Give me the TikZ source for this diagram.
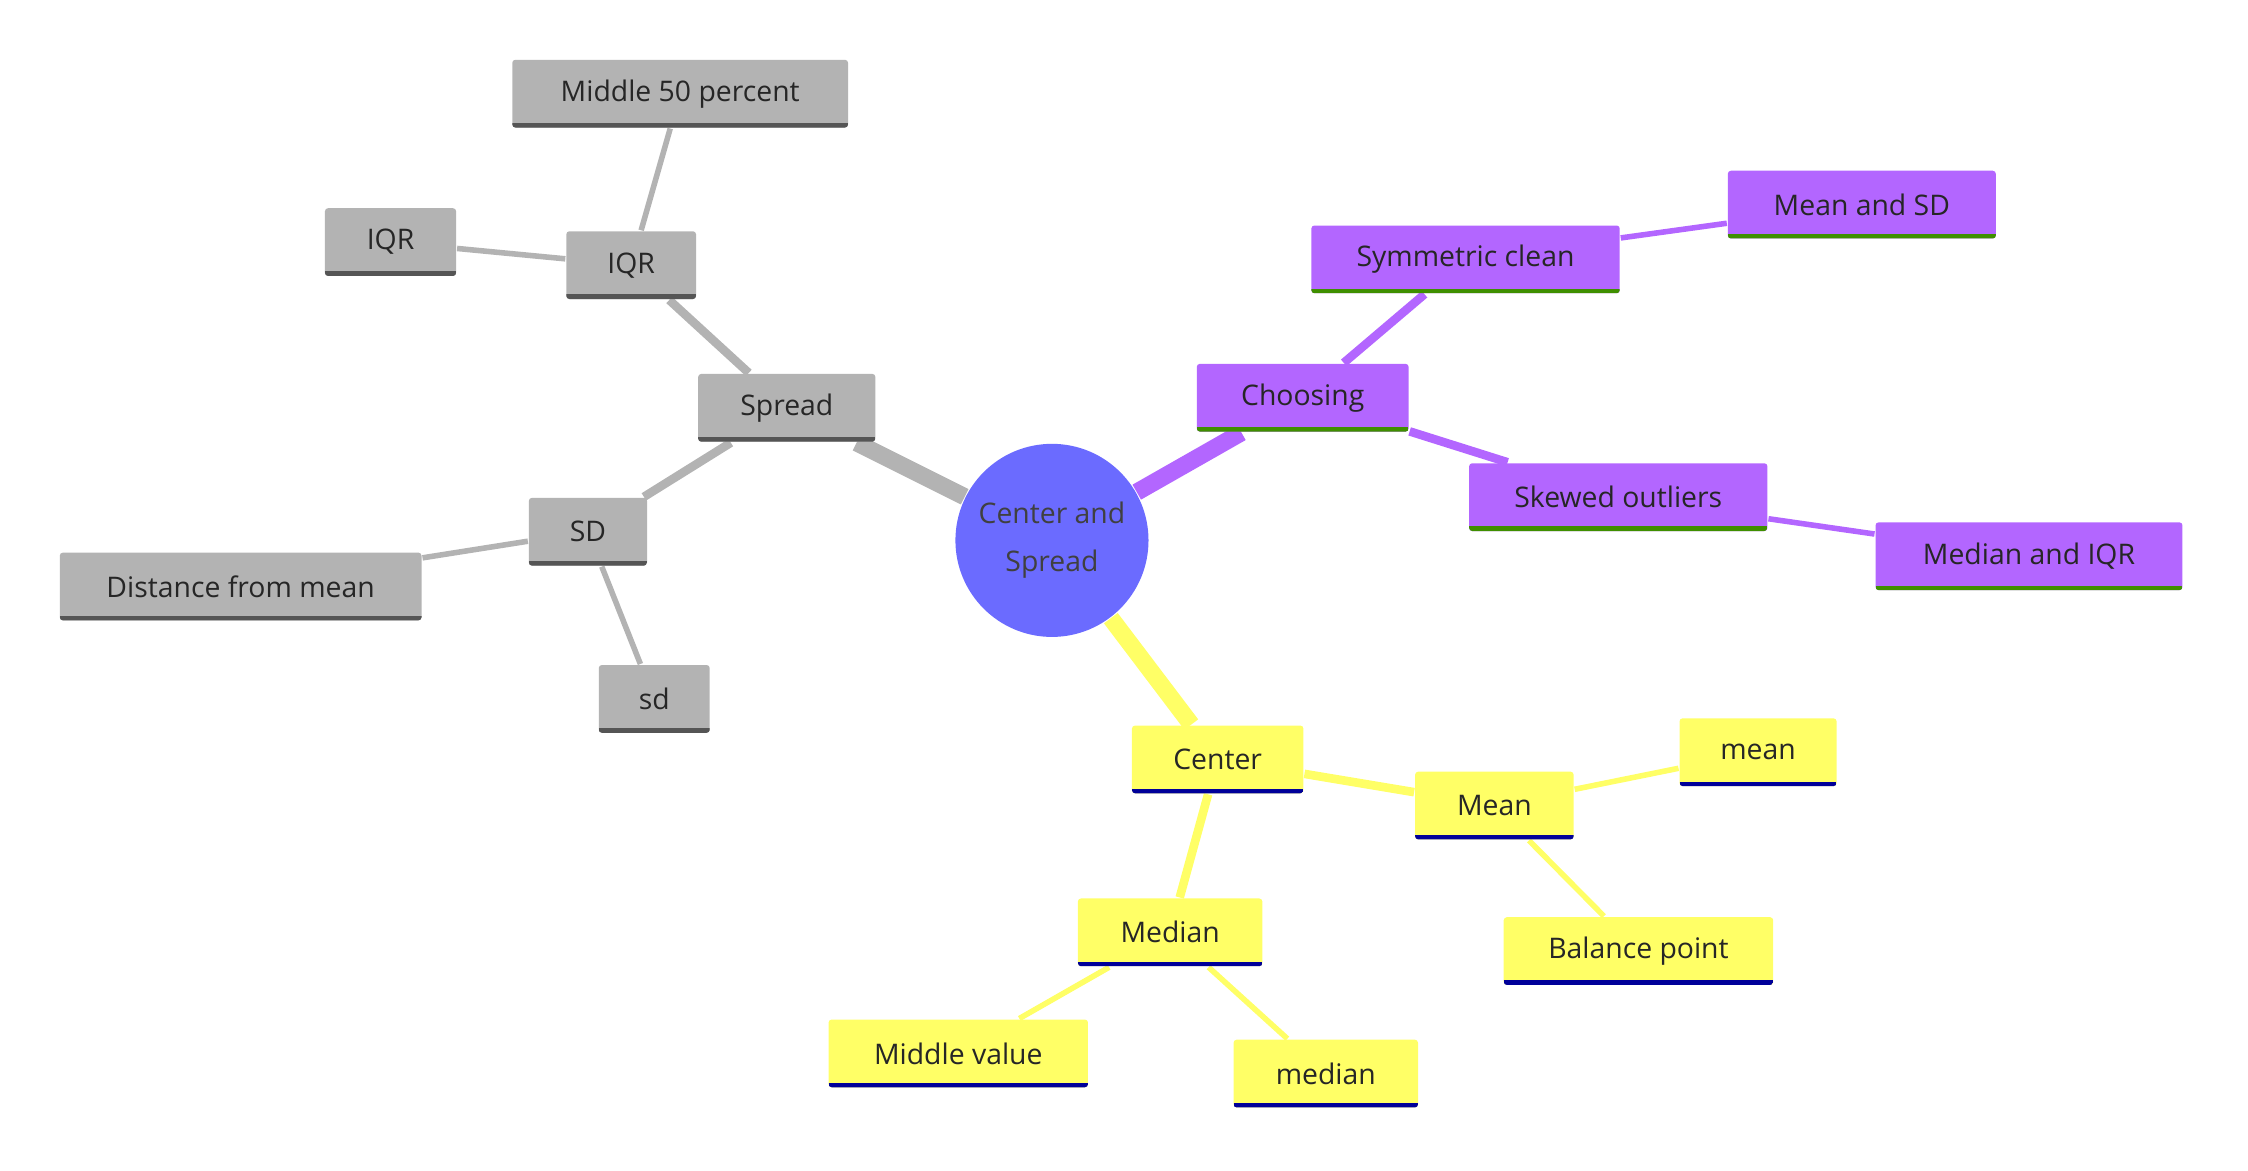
\documentclass[tikz,border=0pt]{standalone}
\usepackage{fontspec}
\setmainfont{Open Sans}
\usetikzlibrary{backgrounds}
\definecolor{rootc}{HTML}{6B6BFF}
\definecolor{grayc}{HTML}{B3B3B3}
\definecolor{grayl}{HTML}{555555}
\definecolor{purpc}{HTML}{B366FF}
\definecolor{purpl}{HTML}{3F8F00}
\definecolor{yelc}{HTML}{FFFF66}
\definecolor{yell}{HTML}{000099}
\begin{document}
\begin{tikzpicture}[font=\fontsize{5.6}{7.5}\selectfont,
  box/.style={rectangle, rounded corners=0.6pt, fill=#1c, text=black!85,
    inner sep=0pt, minimum height=0.47cm,
    path picture={\draw[#1l, line width=1.8pt] (path picture bounding box.south west) -- (path picture bounding box.south east);}},
  root/.style={circle, fill=rootc, minimum size=1.34cm, inner sep=0pt, align=center, text=black!75},
  big/.style={line width=3.4pt},
  mid/.style={line width=1.7pt},
  small/.style={line width=1.1pt}]
\useasboundingbox (0,0) rectangle (15.6,-8.12);

\node[root] (r) at (7.30,-3.75) {Center and\\[2pt]Spread};

\node[box=gray, minimum width=1.23cm] (spread) at (5.46,-2.83) {Spread};
\node[box=gray, minimum width=0.90cm] (iqr) at (4.38,-1.84) {IQR};
\node[box=gray, minimum width=0.91cm] (iqr2) at (2.71,-1.68) {IQR};
\node[box=gray, minimum width=2.33cm] (mid50) at (4.72,-0.65) {Middle 50 percent};
\node[box=gray, minimum width=0.82cm] (sd) at (4.08,-3.69) {SD};
\node[box=gray, minimum width=2.51cm] (dist) at (1.67,-4.07) {Distance from mean};
\node[box=gray, minimum width=0.77cm] (sd2) at (4.54,-4.85) {sd};

\node[box=purp, minimum width=1.47cm] (choose) at (9.04,-2.76) {Choosing};
\node[box=purp, minimum width=2.14cm] (sym) at (10.17,-1.80) {Symmetric clean};
\node[box=purp, minimum width=1.86cm] (meansd) at (12.92,-1.42) {Mean and SD};
\node[box=purp, minimum width=2.07cm] (skew) at (11.23,-3.45) {Skewed outliers};
\node[box=purp, minimum width=2.13cm] (mediqr) at (14.08,-3.86) {Median and IQR};

\node[box=yel, minimum width=1.19cm] (center) at (8.45,-5.27) {Center};
\node[box=yel, minimum width=1.10cm] (mean) at (10.37,-5.59) {Mean};
\node[box=yel, minimum width=1.09cm] (mean2) at (12.20,-5.22) {mean};
\node[box=yel, minimum width=1.87cm] (bal) at (11.37,-6.60) {Balance point};
\node[box=yel, minimum width=1.28cm] (median) at (8.12,-6.47) {Median};
\node[box=yel, minimum width=1.80cm] (midv) at (6.65,-7.31) {Middle value};
\node[box=yel, minimum width=1.28cm] (median2) at (9.20,-7.45) {median};

\begin{scope}[on background layer]
  \draw[big, grayc] (r) -- (spread);
  \draw[mid, grayc] (spread) -- (iqr);
  \draw[mid, grayc] (spread) -- (sd);
  \draw[small, grayc] (iqr) -- (iqr2);
  \draw[small, grayc] (iqr) -- (mid50);
  \draw[small, grayc] (sd) -- (dist);
  \draw[small, grayc] (sd) -- (sd2);

  \draw[big, purpc] (r) -- (choose);
  \draw[mid, purpc] (choose) -- (sym);
  \draw[mid, purpc] (choose) -- (skew);
  \draw[small, purpc] (sym) -- (meansd);
  \draw[small, purpc] (skew) -- (mediqr);

  \draw[big, yelc] (r) -- (center);
  \draw[mid, yelc] (center) -- (mean);
  \draw[mid, yelc] (center) -- (median);
  \draw[small, yelc] (mean) -- (mean2);
  \draw[small, yelc] (mean) -- (bal);
  \draw[small, yelc] (median) -- (midv);
  \draw[small, yelc] (median) -- (median2);
\end{scope}
\end{tikzpicture}
\end{document}
